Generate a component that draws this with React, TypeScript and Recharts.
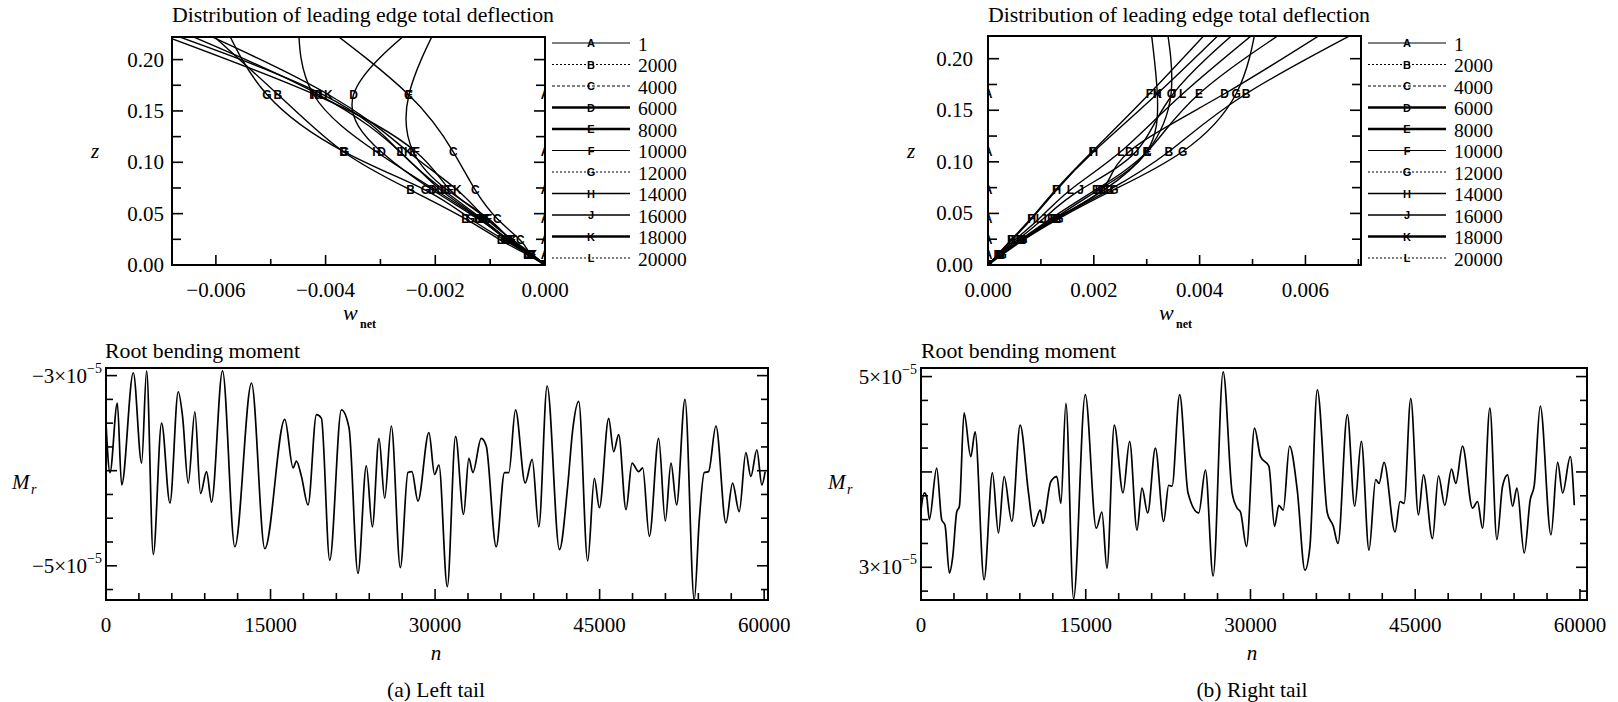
import React from "react";
import { LineChart, Line, XAxis, YAxis } from "recharts";

const SERIF = '"Liberation Serif", "Times New Roman", serif';
const MARK_FONT = '"Liberation Sans", Arial, sans-serif';

// spanwise stations where the leading edge deflection is sampled
const Z_STATIONS = [0, 0.01, 0.024, 0.045, 0.073, 0.11, 0.166, 0.24];
const LETTERS = ["A", "B", "C", "D", "E", "F", "G", "H", "J", "K", "L"];
const STEP_LABELS = ["1", "2000", "4000", "6000", "8000", "10000", "12000", "14000", "16000", "18000", "20000"];

// w_net per station, one row per letter (left tail)
const LEFT_W = [
  [0, 0, 0, 0, 0, 0, 0, 0],
  [0, -0.00032, -0.0008, -0.00145, -0.00245, -0.00367, -0.00487, -0.0064],
  [0, -0.00025, -0.00045, -0.00087, -0.00127, -0.00167, -0.00249, -0.0042],
  [0, -0.00026, -0.00066, -0.00122, -0.00205, -0.00298, -0.00349, -0.0022],
  [0, -0.00024, -0.00062, -0.00103, -0.00178, -0.0024, -0.00248, -0.0019],
  [0, -0.00023, -0.0006, -0.00105, -0.00173, -0.00235, -0.0042, -0.0078],
  [0, -0.0003, -0.00073, -0.00136, -0.00218, -0.00365, -0.00507, -0.0059],
  [0, -0.00026, -0.00068, -0.0012, -0.002, -0.00307, -0.00422, -0.0045],
  [0, -0.00025, -0.00066, -0.00117, -0.0019, -0.00264, -0.00413, -0.0072],
  [0, -0.00022, -0.00058, -0.00107, -0.0016, -0.00249, -0.00395, -0.0068],
  [0, -0.00025, -0.00065, -0.00115, -0.00185, -0.00264, -0.00405, -0.0076],
];

// w_net per station, one row per letter (right tail)
const RIGHT_W = [
  [0, 0, 0, 0, 0, 0, 0, 0],
  [0, 0.00024, 0.00065, 0.0013, 0.0023, 0.00342, 0.00488, 0.0075],
  [0, 0.00022, 0.00064, 0.0013, 0.0022, 0.00301, 0.00346, 0.00335],
  [0, 0.00023, 0.00062, 0.00125, 0.00215, 0.00267, 0.00447, 0.0068],
  [0, 0.00022, 0.0006, 0.00119, 0.00204, 0.00301, 0.00399, 0.006],
  [0, 0.00018, 0.00043, 0.00081, 0.00128, 0.00197, 0.00305, 0.0044],
  [0, 0.00027, 0.00066, 0.00134, 0.00238, 0.00368, 0.00469, 0.0051],
  [0, 0.00019, 0.00045, 0.00083, 0.0013, 0.002, 0.0032, 0.0047],
  [0, 0.0002, 0.00055, 0.00105, 0.00175, 0.0028, 0.0035, 0.005],
  [0, 0.00021, 0.00062, 0.00125, 0.0021, 0.003, 0.0032, 0.00305],
  [0, 0.0002, 0.0005, 0.00097, 0.00156, 0.00251, 0.00368, 0.0054],
];

// root bending moment, values in units of 1e-5
const LEFT_N = [0, 364, 1032, 1426, 2489, 3247, 3703, 4310, 5068, 5827, 6586, 6980, 7497, 8103, 8619, 9165, 9620, 10622, 11745, 13266, 14477, 16298, 17057, 17361, 17817, 18420, 19184, 19639, 20395, 21461, 22156, 22971, 23733, 24280, 24887, 25403, 26012, 26832, 27525, 27889, 28436, 29438, 29955, 30349, 31113, 31868, 32596, 33079, 33444, 34207, 34663, 35573, 36329, 36722, 37331, 38214, 38851, 39455, 40216, 41337, 42090, 42546, 43093, 43913, 44522, 44978, 45826, 46281, 46736, 47408, 47954, 48561, 48925, 49533, 50380, 50989, 51506, 52016, 52781, 53628, 54084, 54539, 54930, 55604, 56514, 57120, 57725, 58332, 58787, 59334, 59789, 60090];
const LEFT_M = [-3.5, -4.02, -3.29, -4.15, -2.97, -3.92, -2.95, -4.88, -3.5, -4.34, -3.17, -3.43, -4.13, -3.38, -4.24, -4.01, -4.33, -2.95, -4.8, -3.08, -4.82, -3.46, -3.97, -3.9, -4.06, -4.36, -3.41, -3.45, -4.94, -3.36, -3.55, -5.08, -3.95, -4.59, -3.66, -4.29, -3.53, -5.02, -4.02, -4.01, -4.32, -3.6, -4.04, -3.94, -5.22, -3.64, -4.46, -3.87, -4.02, -3.66, -3.74, -4.8, -4.02, -4.02, -3.36, -4.13, -3.88, -4.59, -3.11, -4.83, -4.16, -3.57, -3.27, -4.95, -4.08, -4.39, -3.45, -3.8, -3.62, -4.41, -3.92, -4.01, -3.97, -4.69, -3.66, -4.53, -3.92, -4.36, -3.25, -5.36, -4.52, -4.02, -4.01, -3.53, -4.55, -4.13, -4.43, -3.81, -4.06, -3.78, -4.15, -4.01];

const RIGHT_N = [0, 300, 517, 760, 1429, 1884, 2188, 2584, 2888, 3253, 3497, 3921, 4530, 4924, 5745, 6504, 7051, 7569, 8270, 9028, 9787, 10243, 10852, 11095, 11825, 12372, 12737, 13193, 13892, 14955, 15958, 16475, 16931, 17600, 18392, 18996, 19667, 20123, 20640, 21339, 22095, 22551, 22855, 23551, 24314, 25287, 25898, 26598, 27510, 28331, 28787, 29090, 29637, 30367, 30914, 31674, 32190, 32585, 32981, 33558, 34258, 34958, 35414, 36083, 36995, 37542, 37967, 38819, 39485, 40093, 40790, 41400, 41704, 42160, 43163, 43619, 43984, 44592, 45293, 45749, 46570, 47117, 47693, 48302, 48695, 49304, 50216, 50672, 51128, 51796, 52434, 52951, 53407, 53863, 54259, 54925, 55472, 55837, 56384, 57358, 57966, 58423, 59118, 59483];
const RIGHT_M = [3.6, 3.78, 3.74, 3.5, 4.04, 3.5, 3.44, 2.94, 3.11, 3.58, 3.64, 4.62, 4.16, 4.42, 2.87, 3.99, 3.36, 3.95, 3.48, 4.49, 3.78, 3.43, 3.6, 3.46, 3.9, 3.95, 3.67, 4.72, 2.67, 4.81, 3.41, 3.58, 2.99, 4.49, 3.78, 4.32, 3.39, 3.83, 3.57, 4.25, 3.48, 3.86, 3.85, 4.81, 3.78, 3.57, 4.02, 2.91, 5.05, 3.78, 3.62, 3.58, 3.22, 4.46, 4.16, 4.06, 3.43, 3.65, 3.6, 4.27, 3.81, 2.97, 3.22, 4.86, 3.57, 3.43, 3.25, 4.6, 3.64, 4.32, 3.18, 3.92, 3.88, 4.1, 3.37, 3.69, 3.67, 4.77, 3.55, 3.97, 3.3, 3.96, 3.65, 4.03, 3.88, 4.27, 3.62, 3.69, 3.41, 4.67, 3.29, 3.85, 3.97, 3.64, 3.83, 3.15, 3.71, 3.86, 4.69, 3.34, 4.1, 3.78, 4.16, 3.65];

// tick values
const Z_TICKS = [0, 0.025, 0.05, 0.075, 0.1, 0.125, 0.15, 0.175, 0.2];
const Z_LABELS = [0, 0.05, 0.1, 0.15, 0.2];
const LEFT_W_TICKS = [-0.006, -0.005, -0.004, -0.003, -0.002, -0.001, 0];
const LEFT_W_LABELS = [-0.006, -0.004, -0.002, 0];
const RIGHT_W_TICKS = [0, 0.001, 0.002, 0.003, 0.004, 0.005, 0.006, 0.007];
const RIGHT_W_LABELS = [0, 0.002, 0.004, 0.006];
const N_TICKS = [0, 3000, 6000, 9000, 12000, 15000, 18000, 21000, 24000, 27000, 30000, 33000, 36000, 39000, 42000, 45000, 48000, 51000, 54000, 57000, 60000];
const N_LABELS = [0, 15000, 30000, 45000, 60000];
const LEFT_M_TICKS = [-5.25, -5, -4.75, -4.5, -4.25, -4, -3.75, -3.5, -3.25, -3];
const LEFT_M_LONG = [-5, -4, -3];
const LEFT_M_LABELS = [-5, -3];
const RIGHT_M_TICKS = [2.75, 3, 3.25, 3.5, 3.75, 4, 4.25, 4.5, 4.75, 5];
const RIGHT_M_LONG = [3, 4, 5];
const RIGHT_M_LABELS = [3, 5];

const Z_MAX = 0.222;

// legend line looks, by letter
const LEGEND_DASH = ["", "2 2", "3 2", "", "", "", "2 2", "", "", "", "2 2"];
const LEGEND_WIDTH = [1, 1, 1, 2.4, 2.4, 1, 1, 1.4, 1.6, 2.4, 1];

type Side = "left" | "right" | "top" | "bottom";

const near = (list: number[], v: number) => list.some((m) => Math.abs(m - v) < 1e-9);

function makeTick(
  side: Side,
  long: number[],
  longLen: number,
  shortLen: number,
  labelled: number[] = [],
  label?: (v: number) => React.ReactNode,
  gap = 0
) {
  return function Tick(props: any) {
    const { x, y, payload } = props;
    const v = Number(payload.value);
    const len = near(long, v) ? longLen : shortLen;
    const dx = side === "left" ? len : side === "right" ? -len : 0;
    const dy = side === "top" ? len : side === "bottom" ? -len : 0;
    let text = null;
    if (label && near(labelled, v)) {
      if (side === "left") {
        text = (
          <text x={x - gap} y={y} textAnchor="end" dominantBaseline="central" fontFamily={SERIF} fontSize={21} fill="#000">
            {label(v)}
          </text>
        );
      } else {
        text = (
          <text x={x} y={y + gap} textAnchor="middle" dominantBaseline="central" fontFamily={SERIF} fontSize={21} fill="#000">
            {label(v)}
          </text>
        );
      }
    }
    return (
      <g>
        <line x1={x} y1={y} x2={x + dx} y2={y + dy} stroke="#000" strokeWidth={1.6} />
        {text}
      </g>
    );
  };
}

const frame = { stroke: "#000", strokeWidth: 2, strokeLinecap: "square" as const };

function letterDot(letter: string) {
  return (p: any) => {
    if (p.payload.z > Z_MAX) return <g key={`${letter}-${p.index}`} />;
    return (
      <text
        key={`${letter}-${p.index}`}
        x={p.cx}
        y={p.cy}
        textAnchor="middle"
        dominantBaseline="central"
        fontFamily={MARK_FONT}
        fontWeight="bold"
        fontSize={12}
        fill="#000"
      >
        {letter}
      </text>
    );
  };
}

const AX_L = 100;
const AX_B = 45;
const PAD_R = 50;
const PAD_T = 20;

function DeflectionPanel(props: {
  left: number;
  top: number;
  width: number;
  height: number;
  rows: number[][];
  xDomain: [number, number];
  xTicks: number[];
  xLabels: number[];
  xFmt: (v: number) => string;
  yGap: number;
}) {
  const { left, top, width, height, rows, xDomain, xTicks, xLabels, xFmt, yGap } = props;
  const series = LETTERS.map((letter, i) => ({
    letter,
    points: Z_STATIONS.map((z, j) => ({ z, w: rows[i][j] })),
  }));
  return (
    <div style={{ position: "absolute", left: left - AX_L, top: top - 1 - PAD_T }}>
      <LineChart
        width={width + AX_L + 1 + PAD_R}
        height={height + AX_B + 1 + PAD_T}
        margin={{ top: PAD_T, right: PAD_R, bottom: 0, left: 0 }}
      >
        <XAxis
          xAxisId="b"
          dataKey="w"
          type="number"
          domain={xDomain}
          allowDataOverflow
          ticks={xTicks}
          interval={0}
          height={AX_B}
          tickSize={0}
          tickMargin={0}
          tickLine={false}
          axisLine={frame}
          tick={makeTick("bottom", xLabels, 10, 6, xLabels, xFmt, 25)}
        />
        <XAxis
          xAxisId="t"
          orientation="top"
          type="number"
          domain={xDomain}
          allowDataOverflow
          ticks={xTicks}
          interval={0}
          height={1}
          tickSize={0}
          tickMargin={0}
          tickLine={false}
          axisLine={frame}
          tick={makeTick("top", xLabels, 10, 6)}
        />
        <YAxis
          yAxisId="l"
          dataKey="z"
          type="number"
          domain={[0, Z_MAX]}
          allowDataOverflow
          ticks={Z_TICKS}
          interval={0}
          width={AX_L}
          tickSize={0}
          tickMargin={0}
          tickLine={false}
          axisLine={frame}
          tick={makeTick("left", Z_LABELS, 11, 9, Z_LABELS, (v) => v.toFixed(2), yGap)}
        />
        <YAxis
          yAxisId="r"
          orientation="right"
          type="number"
          domain={[0, Z_MAX]}
          allowDataOverflow
          ticks={Z_TICKS}
          interval={0}
          width={1}
          tickSize={0}
          tickMargin={0}
          tickLine={false}
          axisLine={frame}
          tick={makeTick("right", Z_LABELS, 11, 9)}
        />
        {series.map((s) => (
          <Line
            key={s.letter}
            xAxisId="b"
            yAxisId="l"
            data={s.points}
            dataKey="z"
            type="natural"
            stroke="#000"
            strokeWidth={1.4}
            dot={letterDot(s.letter)}
            activeDot={false}
            isAnimationActive={false}
          />
        ))}
      </LineChart>
    </div>
  );
}

function momentLabel(v: number) {
  return (
    <>
      {v < 0 ? "\u2212" : ""}
      {Math.abs(v)}×10
      <tspan dy={-8} fontSize={14}>
        {"\u22125"}
      </tspan>
    </>
  );
}

function MomentPanel(props: {
  left: number;
  top: number;
  width: number;
  height: number;
  ns: number[];
  ms: number[];
  xMax: number;
  yDomain: [number, number];
  yTicks: number[];
  yLong: number[];
  yLabels: number[];
}) {
  const { left, top, width, height, ns, ms, xMax, yDomain, yTicks, yLong, yLabels } = props;
  const data = ns.map((n, i) => ({ n, m: ms[i] }));
  return (
    <div style={{ position: "absolute", left: left - AX_L, top: top - 1 - PAD_T }}>
      <LineChart
        width={width + AX_L + 1 + PAD_R}
        height={height + AX_B + 1 + PAD_T}
        data={data}
        margin={{ top: PAD_T, right: PAD_R, bottom: 0, left: 0 }}
      >
        <XAxis
          xAxisId="b"
          dataKey="n"
          type="number"
          domain={[0, xMax]}
          allowDataOverflow
          ticks={N_TICKS}
          interval={0}
          height={AX_B}
          tickSize={0}
          tickMargin={0}
          tickLine={false}
          axisLine={frame}
          tick={makeTick("bottom", N_LABELS, 11, 7, N_LABELS, (v) => String(v), 25)}
        />
        <XAxis
          xAxisId="t"
          orientation="top"
          type="number"
          domain={[0, xMax]}
          allowDataOverflow
          ticks={N_TICKS}
          interval={0}
          height={1}
          tickSize={0}
          tickMargin={0}
          tickLine={false}
          axisLine={frame}
          tick={makeTick("top", N_LABELS, 11, 7)}
        />
        <YAxis
          yAxisId="l"
          type="number"
          domain={yDomain}
          allowDataOverflow
          ticks={yTicks}
          interval={0}
          width={AX_L}
          tickSize={0}
          tickMargin={0}
          tickLine={false}
          axisLine={frame}
          tick={makeTick("left", yLong, 11, 7, yLabels, momentLabel, 4)}
        />
        <YAxis
          yAxisId="r"
          orientation="right"
          type="number"
          domain={yDomain}
          allowDataOverflow
          ticks={yTicks}
          interval={0}
          width={1}
          tickSize={0}
          tickMargin={0}
          tickLine={false}
          axisLine={frame}
          tick={makeTick("right", yLong, 11, 7)}
        />
        <Line
          xAxisId="b"
          yAxisId="l"
          dataKey="m"
          type="monotone"
          stroke="#000"
          strokeWidth={1.7}
          dot={false}
          activeDot={false}
          isAnimationActive={false}
        />
      </LineChart>
    </div>
  );
}

function Legend({ x }: { x: number }) {
  return (
    <g>
      {LETTERS.map((letter, i) => {
        const y = 43 + i * 21.5;
        return (
          <g key={letter}>
            <line
              x1={x}
              y1={y}
              x2={x + 78}
              y2={y}
              stroke="#000"
              strokeWidth={LEGEND_WIDTH[i]}
              strokeDasharray={LEGEND_DASH[i] || undefined}
            />
            <text x={x + 39} y={y} textAnchor="middle" dominantBaseline="central" fontFamily={MARK_FONT} fontWeight="bold" fontSize={11} fill="#000">
              {letter}
            </text>
            <text x={x + 86} y={y + 1} dominantBaseline="central" fontFamily={SERIF} fontSize={19.5} fill="#000">
              {STEP_LABELS[i]}
            </text>
          </g>
        );
      })}
    </g>
  );
}

function PanelTexts({ dx, caption }: { dx: number; caption: string }) {
  const t = { fontFamily: SERIF, fill: "#000" };
  return (
    <g>
      <text x={172 + dx} y={22} fontSize={21.8} {...t}>
        Distribution of leading edge total deflection
      </text>
      <text x={95 + dx} y={158} fontSize={21} fontStyle="italic" textAnchor="middle" {...t}>
        z
      </text>
      <text x={343 + dx} y={320} fontSize={22} fontStyle="italic" {...t}>
        w
      </text>
      <text x={360 + dx} y={328} fontSize={12} fontWeight="bold" {...t}>
        net
      </text>
      <Legend x={552 + dx} />
      <text x={105 + dx} y={358} fontSize={21.8} {...t}>
        Root bending moment
      </text>
      <text x={12 + dx} y={489} fontSize={21} fontStyle="italic" {...t}>
        M
      </text>
      <text x={31 + dx} y={494} fontSize={14} fontStyle="italic" {...t}>
        r
      </text>
      <text x={436 + dx} y={660} fontSize={21} fontStyle="italic" textAnchor="middle" {...t}>
        n
      </text>
      <text x={436 + dx} y={697} fontSize={21.5} textAnchor="middle" {...t}>
        {caption}
      </text>
    </g>
  );
}

export default function App() {
  return (
    <div style={{ position: "absolute", left: 0, top: 0, width: 1618, height: 702, background: "#fff", overflow: "hidden" }}>
      <DeflectionPanel
        left={172}
        top={37}
        width={373}
        height={228}
        rows={LEFT_W}
        xDomain={[-0.0068, 0]}
        xTicks={LEFT_W_TICKS}
        xLabels={LEFT_W_LABELS}
        xFmt={(v) => (v === 0 ? "0.000" : "\u2212" + Math.abs(v).toFixed(3))}
        yGap={8}
      />
      <DeflectionPanel
        left={988}
        top={36}
        width={373}
        height={229}
        rows={RIGHT_W}
        xDomain={[0, 0.00705]}
        xTicks={RIGHT_W_TICKS}
        xLabels={RIGHT_W_LABELS}
        xFmt={(v) => v.toFixed(3)}
        yGap={15}
      />
      <MomentPanel
        left={106}
        top={368}
        width={662}
        height={232}
        ns={LEFT_N}
        ms={LEFT_M}
        xMax={60350}
        yDomain={[-5.36, -2.92]}
        yTicks={LEFT_M_TICKS}
        yLong={LEFT_M_LONG}
        yLabels={LEFT_M_LABELS}
      />
      <MomentPanel
        left={921}
        top={368}
        width={666}
        height={232}
        ns={RIGHT_N}
        ms={RIGHT_M}
        xMax={60640}
        yDomain={[2.657, 5.09]}
        yTicks={RIGHT_M_TICKS}
        yLong={RIGHT_M_LONG}
        yLabels={RIGHT_M_LABELS}
      />
      <svg width={1618} height={702} style={{ position: "absolute", left: 0, top: 0, pointerEvents: "none" }}>
        <PanelTexts dx={0} caption="(a) Left tail" />
        <PanelTexts dx={816} caption="(b) Right tail" />
      </svg>
    </div>
  );
}
